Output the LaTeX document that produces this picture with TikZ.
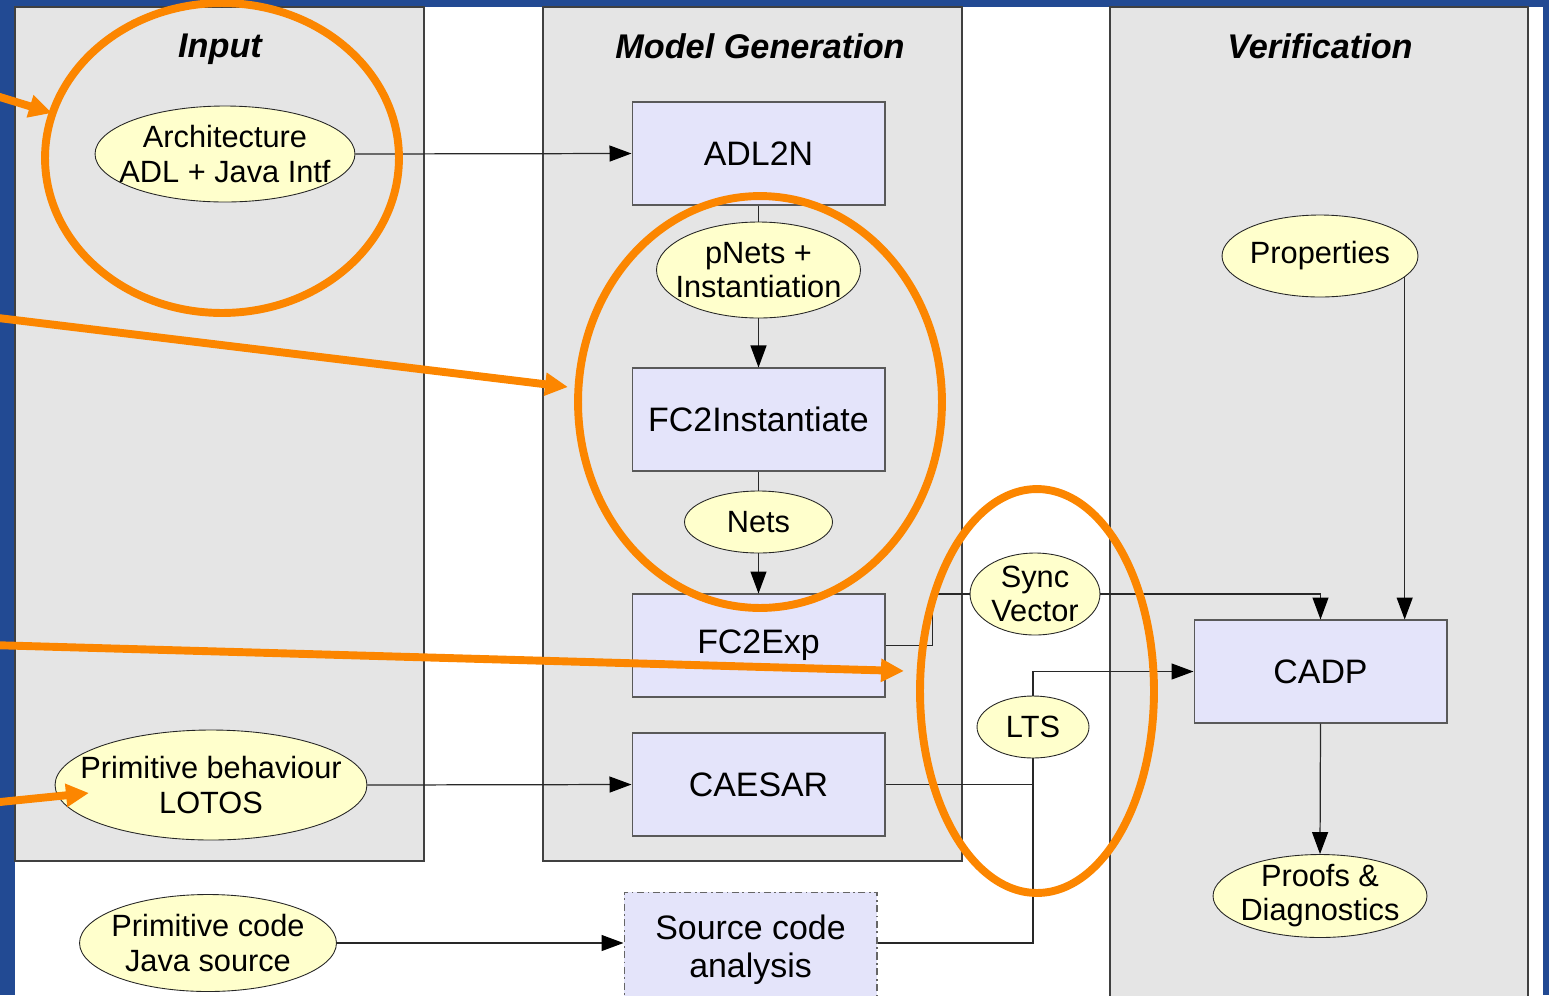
\documentclass[tikz,border=0pt]{standalone}
\usepackage{fontspec}
\setmainfont{Liberation Sans}
\usetikzlibrary{arrows.meta,shapes.geometric}
\definecolor{slideblue}{RGB}{34,74,147}
\definecolor{panelgray}{RGB}{229,229,229}
\definecolor{boxfill}{RGB}{228,228,250}
\definecolor{ellfill}{RGB}{255,255,204}
\definecolor{hilite}{RGB}{252,134,0}
\definecolor{wirecol}{RGB}{40,40,40}

\begin{document}
\begin{tikzpicture}[x=0.02cm,y=-0.02cm,
  panel/.style={draw=black!75, line width=0.6pt, fill=panelgray},
  title/.style={font=\fontsize{19.5pt}{22pt}\selectfont\bfseries\itshape},
  stage/.style={draw=black!65, line width=0.6pt, fill=boxfill,
    minimum width=5.06cm, minimum height=2.06cm, inner sep=0pt, align=center,
    font=\fontsize{19.3pt}{21.6pt}\selectfont},
  data/.style={ellipse, draw=black!85, line width=0.5pt, fill=ellfill, inner sep=0pt},
  dtext/.style={inner sep=0pt, align=center, font=\fontsize{17.5pt}{19.4pt}\selectfont},
  wire/.style={draw=wirecol, line width=0.7pt},
  arr/.style={wire, -{Triangle[length=0.44cm,width=0.32cm,color=black]}},
  ring/.style={ellipse, draw=hilite, line width=4.5pt, inner sep=0pt},
  pointer/.style={draw=hilite, line width=4.5pt, -{Triangle[length=0.46cm,width=0.44cm]}},
]
% canvas
\path[use as bounding box, fill=white] (0,0) rectangle (1549,995);

% slide frame
\fill[slideblue] (0,0) rectangle (15,995);
\fill[slideblue] (0,0) rectangle (1549,7);
\fill[slideblue] (1543,0) rectangle (1549,995);

% swim lanes
\draw[panel] (15,7) rectangle (424,861);
\draw[panel] (543,7) rectangle (962,861);
\draw[panel] (1110,7) rectangle (1528,1000);

\node[title] (tin)  at (220,49) {Input};
\node[title] (tgen) at (760,46) {Model Generation};
\node[title] (tver) at (1320,46) {Verification};

% tools
\node[stage] (a2n)    at (758.5,153.5) {ADL2N};
\node[stage] (fc2i)   at (758.5,419.5) {FC2Instantiate};
\node[stage] (fc2e)   at (758.5,645.5) {FC2Exp};
\node[stage] (caesar) at (758.5,784.5) {CAESAR};
\node[stage, draw=black!60, dash pattern=on 4pt off 2pt on 1pt off 2pt,
      minimum height=2.3cm] (src) at (750.5,949.5) {Source code\\analysis};
\node[stage] (cadp)   at (1320.5,671.5) {CADP};

% data items
\node[data, minimum width=5.2cm, minimum height=1.92cm] (adl) at (225,154) {};
\node[dtext] (adl-t) at (adl) {Architecture\\ADL + Java Intf};
\node[data, minimum width=4.08cm, minimum height=1.92cm] (pnets) at (758.5,270) {};
\node[dtext] (pnets-t) at (pnets) {pNets +\\Instantiation};
\node[data, minimum width=2.96cm, minimum height=1.24cm] (nets) at (758.5,522) {};
\node[dtext] (nets-t) at (nets) {Nets};
\node[data, minimum width=2.6cm, minimum height=1.64cm] (sync) at (1035,594) {};
\node[dtext] (sync-t) at (sync) {Sync\\Vector};
\node[data, minimum width=2.24cm, minimum height=1.24cm] (lts) at (1033,727) {};
\node[dtext] (lts-t) at (lts) {LTS};
\node[data, minimum width=3.92cm, minimum height=1.64cm] (props) at (1320,256) {};
\node[dtext] (props-t) at (props) {Properties};
\node[data, minimum width=4.28cm, minimum height=1.66cm] (proofs) at (1320,896) {};
\node[dtext] (proofs-t) at (proofs) {Proofs \&\\Diagnostics};
\node[data, minimum width=6.24cm, minimum height=2.2cm] (beh) at (211,785) {};
\node[dtext] (beh-t) at (beh) {Primitive behaviour\\LOTOS};
\node[data, minimum width=5.14cm, minimum height=1.94cm] (code) at (208,943) {};
\node[dtext] (code-t) at (code) {Primitive code\\Java source};

% flow
\draw[arr] (adl.east) -- (a2n.west);
\draw[wire] (a2n.south) -- (pnets.north);
\draw[arr] (pnets.south) -- (fc2i.north);
\draw[wire] (fc2i.south) -- (nets.north);
\draw[arr] (nets.south) -- (fc2e.north);
\draw[wire] (fc2e.east) -- ++(47,0) |- (sync.west);
\draw[arr] (sync.east) -| (cadp.north);
\draw[arr] (props.-14) -- (props.-14 |- cadp.north);
\draw[arr] (beh.east) -- (caesar.west);
\draw[arr] (code.east) -- (code.east -| src.west);
\draw[wire] (caesar.east) -| (lts.south);
\draw[wire] (code.east -| src.east) -| (lts.south);
\draw[arr] (lts.north) |- (cadp.west);
\draw[arr] (cadp.south) -- (proofs.north);

% highlights
\node[ring, minimum width=7.08cm, minimum height=6.2cm] (ringA) at (222,158) {};
\node[ring, minimum width=7.28cm, minimum height=8.24cm] (ringB) at (760,402) {};
\node[ring, minimum width=4.68cm, minimum height=8.08cm] (ringC) at (1037,691) {};

\coordinate (tailA) at (-10,94);
\coordinate (headA) at (52,113);
\coordinate (tailB) at (-10,317);
\coordinate (headB) at (568,387);
\coordinate (tailC) at (-10,645);
\coordinate (headC) at (904,671);
\coordinate (tailD) at (-10,803);
\coordinate (headD) at (89,793);

\draw[pointer] (tailA) -- (headA);
\draw[pointer] (tailB) -- (headB);
\draw[pointer] (tailC) -- (headC);
\draw[pointer] (tailD) -- (headD);
\end{tikzpicture}
\end{document}
